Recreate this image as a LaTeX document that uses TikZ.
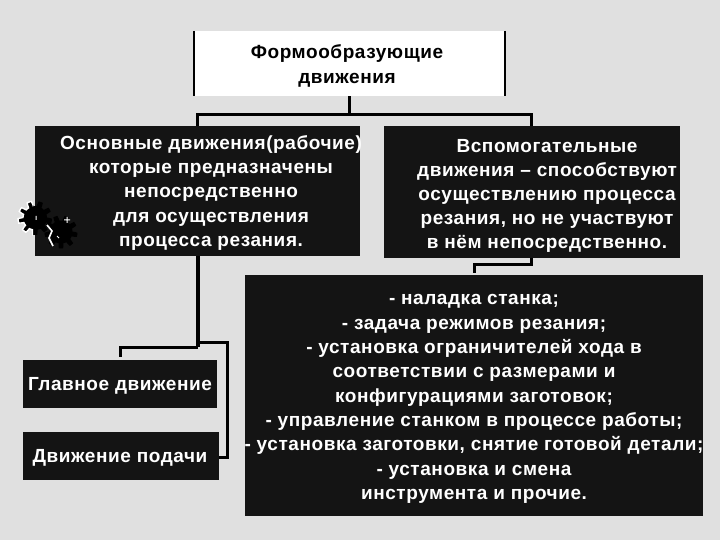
\documentclass[tikz,border=0pt]{standalone}
\usepackage{fontspec}
\setmainfont[LetterSpace=3]{Liberation Sans}
\usetikzlibrary{positioning,calc}
\definecolor{Panel}{RGB}{20,20,20}
\definecolor{Back}{RGB}{224,224,224}
\begin{document}
\begin{tikzpicture}[x=1pt,y=-1pt,node distance=23pt,
  panel/.style={fill=Panel,inner sep=0pt},
  lines/.style={text=white,inner sep=0pt,align=center,font=\fontsize{19}{24.3}\selectfont\bfseries},
  link/.style={line width=3pt,black}]
\useasboundingbox[fill=Back] (0,0) rectangle (720,540);
% upper row
\node[fill=white,minimum width=311pt,minimum height=65pt,inner sep=0pt] (title) at (349.5,63.5) {};
\node[lines,text=black,font=\fontsize{19}{25}\selectfont\bfseries] (titletext) at (347,66) {Формообразующие\\движения};
\node[panel,minimum width=325pt,minimum height=130pt,anchor=north west] (basic) at (35,126) {};
\node[panel,minimum width=296pt,minimum height=132pt,right=of basic.north east,anchor=north west] (aux) {};
\node[lines] (basictext) at (211,193) {Основные движения(рабочие)\\которые предназначены\\непосредственно\\для осуществления\\процесса резания.};
\node[lines,font=\fontsize{19}{24}\selectfont\bfseries] (auxtext) at (547,195.5) {Вспомогательные\\движения – способствуют\\осуществлению процесса\\резания, но не участвуют\\в нём непосредственно.};
% lower boxes
\node[panel,minimum width=194pt,minimum height=48pt] (mainmove) at (120,384) {};
\node[lines] (maintext) at (120,386) {Главное движение};
\node[panel,minimum width=196pt,minimum height=48pt] (feedmove) at (121,456) {};
\node[lines] (feedtext) at (120,458) {Движение подачи};
\node[panel,minimum width=458pt,minimum height=241pt] (extra) at (474,395.5) {};
\node[lines] (extratext) at (474,399) {- наладка станка;\\- задача режимов резания;\\- установка ограничителей хода в\\соответствии с размерами и\\конфигурациями заготовок;\\- управление станком в процессе работы;\\- установка заготовки, снятие готовой детали;\\- установка и смена\\инструмента и прочие.};
% title frame
\draw[line width=2.5pt] (title.north west)--(title.south west) (title.north east)--(title.south east);
% connectors
\coordinate (fork) at (349.5,115);
\coordinate (leftdrop) at (197.5,126);
\coordinate (rightdrop) at (531,126);
\draw[link] (title.south-|fork)--(fork);
\draw[link] (leftdrop)|-(rightdrop|-fork)--(rightdrop);
\draw[link,shorten >=2pt] (rightdrop|-aux.south)--(531,264)-|(extra.north);
\draw[link,line width=4pt] (leftdrop|-basic.south)--(197.5,347);
\draw[link,shorten >=3pt] (197.5,347)-|(mainmove.north);
\draw[link] (197.5,342)-|(227,457)--(feedmove.east|-0,457);
% gears
\fill[black] plot[domain=0:360,samples=145,shift={(35,218)}] (\x:{14.5+2.5*sign(sin(9*\x))}) -- cycle;
\fill[black] plot[domain=0:360,samples=145,shift={(61,232)}] (\x:{14+2.5*sign(sin(9*\x))}) -- cycle;
\begin{scope}
\clip (0,190) rectangle (33,250);
\draw[white,line width=1.4pt] plot[domain=0:360,samples=145,shift={(35,218)}] (\x:{14.5+2.5*sign(sin(9*\x))}) -- cycle;
\end{scope}
\draw[white,line width=1.6pt] (47,225)--(52,231)--(49,238)--(53,246);
\draw[white,line width=1pt] (36,216)--(36,220) (67,217)--(67,223) (64,220)--(70,220) (57,236)--(59,238);
\end{tikzpicture}
\end{document}
